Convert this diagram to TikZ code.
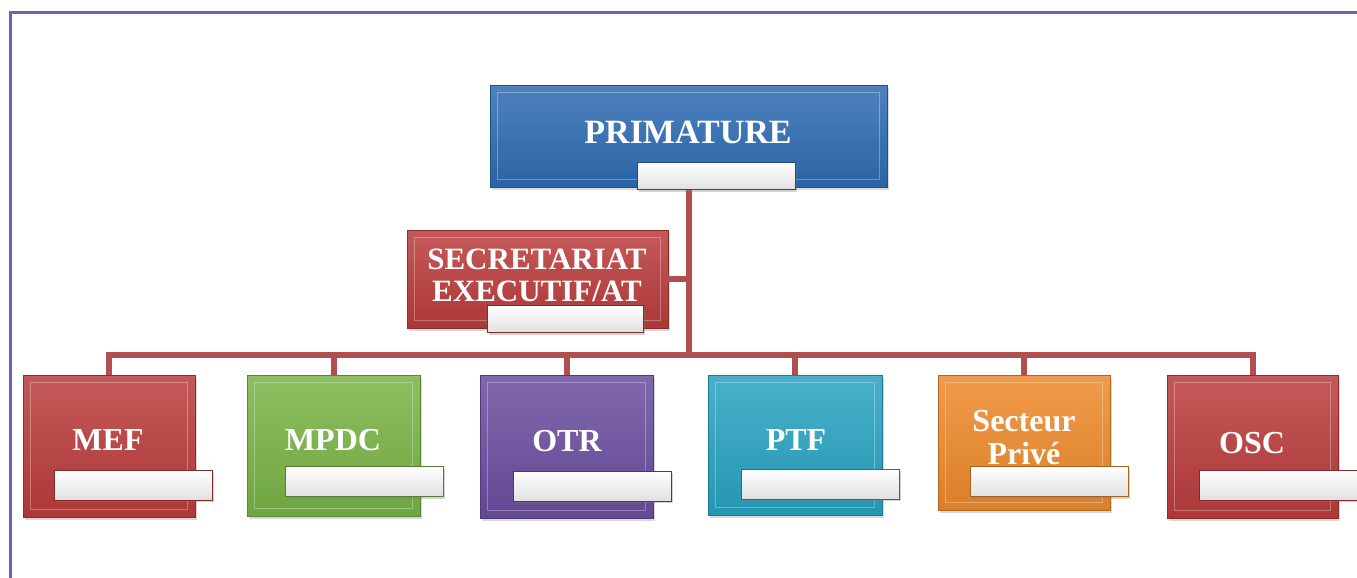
\documentclass[tikz,border=0pt]{standalone}
\usepackage{fontspec}
\setmainfont{Liberation Serif}
\usetikzlibrary{shadows}
\definecolor{cblue}{HTML}{2E6CB3}
\definecolor{cred}{HTML}{BB3C3C}
\definecolor{cgreen}{HTML}{79B445}
\definecolor{cpurple}{HTML}{6B4E9F}
\definecolor{cteal}{HTML}{28A3C1}
\definecolor{corange}{HTML}{EE8A2B}
\definecolor{cconn}{HTML}{B04E50}
\definecolor{cframe}{HTML}{7A5DB0}
\tikzset{
  orgbox/.style={draw=#1!75!black, line width=0.8pt, shading=axis,
    top color=#1!85!white, middle color=#1, bottom color=#1!92!black,
    inner sep=0pt,
    drop shadow={opacity=0.3, shadow xshift=2pt, shadow yshift=-3pt}},
  bevel/.style={draw=white, line width=1.2pt, opacity=0.3},
  labelbar/.style={draw=#1!70!black, line width=1pt, shading=axis,
    top color=white, bottom color=black!12, inner sep=0pt,
    minimum width=158pt, minimum height=30pt,
    drop shadow={opacity=0.35, shadow xshift=2pt, shadow yshift=-2pt}},
  lbl/.style={text=white, inner sep=0pt, font=\fontsize{32}{33}\selectfont\bfseries, align=center},
  conn/.style={draw=cconn, line width=6pt},
  frameline/.style={draw=cframe, line width=3pt}
}
\begin{document}
\begin{tikzpicture}[x=1pt,y=-1pt]
\useasboundingbox (0,0) rectangle (1357,578);
\draw[frameline] (10,578) -- (10,13) -- (1357,13);

% boxes
\node[orgbox=cblue, minimum width=397pt, minimum height=102pt] (prim) at (688.5,136) {};
\node[orgbox=cred, minimum width=261pt, minimum height=98pt] (sec) at (537.5,279) {};
\node[orgbox=cred, minimum width=172pt, minimum height=142pt] (mef) at (109,446) {};
\node[orgbox=cgreen, minimum width=173pt, minimum height=141pt] (mpdc) at (333.5,445.5) {};
\node[orgbox=cpurple, minimum width=173pt, minimum height=143pt] (otr) at (566.5,446.5) {};
\node[orgbox=cteal, minimum width=174pt, minimum height=140pt] (ptf) at (795,445) {};
\node[orgbox=corange, minimum width=172pt, minimum height=135pt] (sp) at (1024,442.5) {};
\node[orgbox=cred, minimum width=171pt, minimum height=143pt] (osc) at (1252.5,446.5) {};

\foreach \n in {prim,sec,mef,mpdc,otr,ptf,sp,osc}{
  \draw[bevel] ([xshift=8pt,yshift=-8pt]\n.north west) rectangle ([xshift=-8pt,yshift=8pt]\n.south east);
}

% connectors
\coordinate (bus) at (688.5,355);
\draw[conn] (prim.south) -- ([yshift=-3pt]bus);
\draw[conn] (sec.east) -- (sec.east -| prim.south);
\draw[conn] ([xshift=-3pt]mef.north |- bus) -- ([xshift=3pt]osc.north |- bus);
\foreach \n in {mef,mpdc,otr,ptf,sp,osc}{
  \draw[conn] (\n.north |- bus) -- (\n.north);
}

% label bars
\node[labelbar=cblue, minimum width=158pt, minimum height=27pt] (primbar) at (716,176) {};
\node[labelbar=cred, minimum width=156pt, minimum height=27pt] (secbar) at (565,319) {};
\node[labelbar=cred] (mefbar) at (133,485) {};
\node[labelbar=cgreen] (mpdcbar) at (364,481.5) {};
\node[labelbar=cpurple] (otrbar) at (592,486) {};
\node[labelbar=cteal] (ptfbar) at (820,484) {};
\node[labelbar=corange] (spbar) at (1049,481.5) {};
\node[labelbar=cred] (oscbar) at (1278,485) {};

% texts
\node[lbl, anchor=base, font=\fontsize{34}{35}\selectfont\bfseries] (primtxt) at (688,143) {PRIMATURE};
\node[lbl, font=\fontsize{31}{32}\selectfont\bfseries] (sectxt) at (537,275) {SECRETARIAT\\EXECUTIF/AT};
\node[lbl, anchor=base] (meftxt) at (108,450) {MEF};
\node[lbl, anchor=base] (mpdctxt) at (333,450) {MPDC};
\node[lbl, anchor=base] (otrtxt) at (567,451) {OTR};
\node[lbl, anchor=base] (ptftxt) at (796,450) {PTF};
\node[lbl] (sptxt) at (1024,438) {Secteur\\Privé};
\node[lbl, anchor=base] (osctxt) at (1252,453) {OSC};
\end{tikzpicture}
\end{document}
